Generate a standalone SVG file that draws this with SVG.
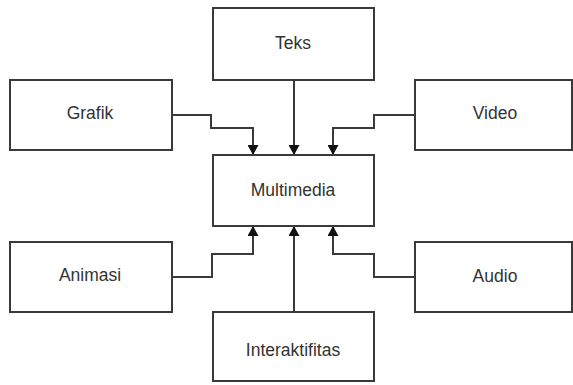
<svg xmlns="http://www.w3.org/2000/svg" width="573" height="385" viewBox="0 0 573 385">
<style>
.box{fill:#fff;stroke:#3a3a3a;stroke-width:2}
.lbl{font-family:"Liberation Sans",Arial,sans-serif;font-size:17.5px;fill:#333;text-anchor:middle;dominant-baseline:central}
.conn{fill:none;stroke:#3a3a3a;stroke-width:2}
</style>
<defs>
<marker id="arr" markerWidth="10" markerHeight="11" refX="10" refY="5.5" orient="auto" markerUnits="userSpaceOnUse">
<path d="M0,0 L10,5.5 L0,11 Z" fill="#111"/>
</marker>
</defs>
<rect width="573" height="385" fill="#fff"/>
<g id="connectors">
<path class="conn" d="M172,115 H211 V128 H253 V155" marker-end="url(#arr)"/>
<path class="conn" d="M294,80 V155" marker-end="url(#arr)"/>
<path class="conn" d="M415,115 H374 V128 H333 V155" marker-end="url(#arr)"/>
<path class="conn" d="M172,277 H212 V254 H253 V226" marker-end="url(#arr)"/>
<path class="conn" d="M294,312 V226" marker-end="url(#arr)"/>
<path class="conn" d="M415,277 H374 V254 H333 V226" marker-end="url(#arr)"/>
</g>
<g id="teks"><rect class="box" x="213" y="8" width="161" height="72"/><text class="lbl" x="293" y="43">Teks</text></g>
<g id="grafik"><rect class="box" x="10" y="80" width="162" height="70"/><text class="lbl" x="90" y="113">Grafik</text></g>
<g id="video"><rect class="box" x="415" y="80" width="157" height="70"/><text class="lbl" x="495" y="113">Video</text></g>
<g id="multimedia"><rect class="box" x="213" y="155" width="161" height="71"/><text class="lbl" x="293" y="190">Multimedia</text></g>
<g id="animasi"><rect class="box" x="10" y="242" width="162" height="70"/><text class="lbl" x="90" y="275">Animasi</text></g>
<g id="audio"><rect class="box" x="415" y="242" width="157" height="70"/><text class="lbl" x="495" y="276">Audio</text></g>
<g id="interaktifitas"><rect class="box" x="213" y="312" width="161" height="69"/><text class="lbl" x="293" y="350">Interaktifitas</text></g>
</svg>
